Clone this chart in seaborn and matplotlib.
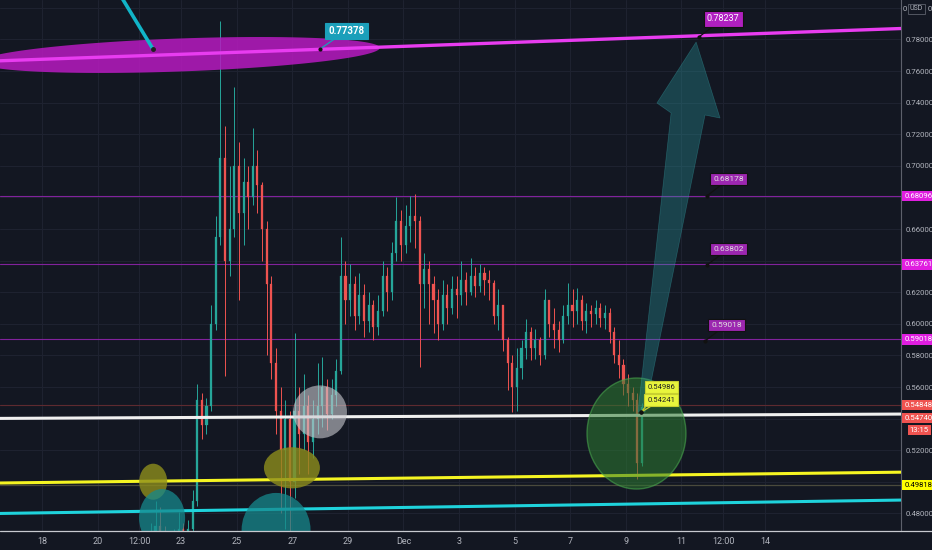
import numpy as np
import pandas as pd
import matplotlib
matplotlib.use("Agg")
import matplotlib.pyplot as plt
import seaborn as sns
from matplotlib.patches import Ellipse, Polygon
from matplotlib.lines import Line2D
import matplotlib.transforms as mtransforms

# ---------------- data (4h candles, x = days after 18 Nov) ----------------
candle_start_day = 3.5
candle_step = 1 / 6
first_open = 0.456
closes = [0.460, 0.463, 0.466, 0.472, 0.468, 0.464, 0.461, 0.465, 0.470, 0.466,
          0.470, 0.488, 0.552, 0.536, 0.548, 0.600, 0.655, 0.705, 0.640, 0.660,
          0.700, 0.670, 0.690, 0.680, 0.700, 0.688, 0.660, 0.625, 0.575, 0.545,
          0.520, 0.540, 0.500, 0.545, 0.530, 0.548, 0.525, 0.540, 0.548, 0.560,
          0.543, 0.555, 0.570, 0.630, 0.615, 0.625, 0.605, 0.618, 0.602, 0.612,
          0.598, 0.608, 0.630, 0.620, 0.645, 0.665, 0.650, 0.662, 0.668, 0.665,
          0.625, 0.635, 0.625, 0.615, 0.600, 0.618, 0.610, 0.622, 0.618, 0.628,
          0.620, 0.630, 0.624, 0.632, 0.628, 0.626, 0.605, 0.612, 0.590, 0.575,
          0.560, 0.572, 0.585, 0.595, 0.585, 0.590, 0.580, 0.615, 0.600, 0.596,
          0.590, 0.605, 0.612, 0.608, 0.615, 0.602, 0.608, 0.606, 0.610, 0.604,
          0.607, 0.595, 0.580, 0.574, 0.562, 0.556, 0.552, 0.512, 0.5474]
highs = [0.462, 0.468, 0.474, 0.488, 0.484, 0.472, 0.467, 0.470, 0.481, 0.474,
         0.476, 0.495, 0.562, 0.556, 0.553, 0.612, 0.668, 0.792, 0.725, 0.700,
         0.750, 0.715, 0.705, 0.700, 0.724, 0.710, 0.690, 0.665, 0.630, 0.585,
         0.560, 0.552, 0.545, 0.594, 0.560, 0.568, 0.555, 0.552, 0.575, 0.579,
         0.565, 0.565, 0.578, 0.655, 0.640, 0.638, 0.630, 0.632, 0.625, 0.620,
         0.615, 0.618, 0.640, 0.636, 0.652, 0.680, 0.672, 0.675, 0.681, 0.682,
         0.668, 0.645, 0.640, 0.630, 0.622, 0.628, 0.625, 0.630, 0.630, 0.640,
         0.633, 0.642, 0.636, 0.638, 0.636, 0.634, 0.628, 0.622, 0.612, 0.592,
         0.580, 0.585, 0.590, 0.603, 0.598, 0.597, 0.592, 0.622, 0.615, 0.610,
         0.602, 0.612, 0.626, 0.622, 0.623, 0.618, 0.613, 0.612, 0.615, 0.613,
         0.612, 0.610, 0.598, 0.590, 0.578, 0.568, 0.560, 0.556, 0.5498]
lows = [0.452, 0.456, 0.460, 0.462, 0.463, 0.458, 0.455, 0.458, 0.462, 0.460,
        0.463, 0.468, 0.485, 0.527, 0.530, 0.545, 0.596, 0.650, 0.567, 0.630,
        0.655, 0.615, 0.650, 0.660, 0.675, 0.670, 0.640, 0.580, 0.565, 0.530,
        0.480, 0.470, 0.465, 0.490, 0.505, 0.520, 0.505, 0.515, 0.530, 0.535,
        0.533, 0.540, 0.548, 0.568, 0.600, 0.605, 0.596, 0.600, 0.592, 0.595,
        0.590, 0.593, 0.605, 0.608, 0.615, 0.640, 0.640, 0.645, 0.652, 0.648,
        0.573, 0.610, 0.600, 0.594, 0.590, 0.596, 0.600, 0.606, 0.604, 0.612,
        0.612, 0.618, 0.617, 0.620, 0.618, 0.615, 0.600, 0.596, 0.583, 0.558,
        0.544, 0.545, 0.565, 0.578, 0.577, 0.578, 0.574, 0.578, 0.592, 0.585,
        0.582, 0.588, 0.600, 0.598, 0.600, 0.596, 0.594, 0.598, 0.600, 0.598,
        0.597, 0.588, 0.575, 0.566, 0.555, 0.548, 0.545, 0.502, 0.510]

date_tick_days = [0, 2, 3.5, 5, 7, 9, 11, 13, 15, 17, 19, 21, 23, 24.5, 26]
date_tick_labels = ["18", "20", "12:00", "23", "25", "27", "29", "Dec", "3", "5",
                    "7", "9", "11", "12:00", "14"]
price_ticks = [0.48, 0.50, 0.52, 0.54, 0.56, 0.58, 0.60, 0.62, 0.64, 0.66,
               0.68, 0.70, 0.72, 0.74, 0.76, 0.78, 0.80]
price_tick_labels = ["0.48000", "", "0.52000", "", "0.56000", "0.58000", "0.60000",
                     "0.62000", "", "0.66000", "", "0.70000", "0.72000", "0.74000",
                     "0.76000", "0.78000", ""]

# horizontal levels
fib_levels = [0.68096, 0.63761, 0.59018]
last_price_line = 0.54848
low_level = 0.49818
# trend lines: two anchor points each (day, price)
magenta_trend = [(10.0, 0.77378), (23.63, 0.78237)]
white_trend = [(0.0, 0.5403), (26.0, 0.5425)]
yellow_trend = [(0.0, 0.4996), (26.0, 0.5051)]
cyan_trend = [(0.0, 0.4804), (26.0, 0.4872)]
pointer_line_days = [2.80, 3.99]
pointer_line_prices = [0.8085, 0.7740]

# callout labels: (text, anchor day, anchor price, box day, box price)
callouts_purple = [("0.68178", 23.92, 0.6810, 24.70, 0.6917),
                   ("0.63802", 23.92, 0.6373, 24.70, 0.6474),
                   ("0.59018", 23.85, 0.5892, 24.62, 0.5994)]
callout_top = ("0.78237", 23.63, 0.7816, 24.50, 0.7930)
callout_left = ("0.77378", 10.00, 0.7740, 10.94, 0.7854)
callouts_yellow = [("0.54986", 21.55, 0.5441, 22.27, 0.5600),
                   ("0.54241", 21.55, 0.5441, 22.27, 0.5518)]

# right axis colored labels: (text, price position, face, text colour, align)
axis_badges = [("0.68096", 0.68096, "#e01ee0", "white", "left"),
               ("0.63761", 0.63761, "#e01ee0", "white", "left"),
               ("0.59018", 0.59018, "#e01ee0", "white", "left"),
               ("0.54848", 0.54848, "#ef5350", "white", "left"),
               ("0.54740", 0.5404, "#ef5350", "white", "left"),
               ("13:15", 0.5329, "#ef5350", "white", "right"),
               ("0.49818", 0.49818, "#ffff00", "black", "left")]

# ---------------- style ----------------
BG = "#131722"
GRID = "#1e2230"
TXT = "#b2b5be"
UP = "#26a69a"
DOWN = "#ef5350"

sns.set_theme(style="dark")
plt.rcParams['font.family'] = ['Roboto', 'DejaVu Sans']

fig = plt.figure(figsize=(9.32, 5.5), dpi=100, facecolor=BG)
ax = fig.add_axes([0, 19 / 550, 901 / 932, 531 / 550])
ax.set_facecolor(BG)
ax.set_xlim(-1.511, 30.90)
ax.set_ylim(0.4689, 0.8050)

# grid
for d in date_tick_days:
    ax.axvline(d, color=GRID, lw=0.8, zorder=0)
for p in price_ticks:
    ax.axhline(p, color=GRID, lw=0.8, zorder=0)

# horizontal levels
for lv in fib_levels:
    ax.axhline(lv, color="#8e24aa", lw=0.8, alpha=0.9, zorder=1)
ax.axhline(last_price_line, color="#5e2a30", lw=0.8, zorder=1)
ax.axhline(low_level, color="#4a4a3c", lw=0.9, zorder=1)

# candles
n = len(closes)
opens = [first_open] + closes[:-1]
xs = candle_start_day + candle_step * (np.arange(n) + 0.5)
df = pd.DataFrame({"x": xs, "open": opens, "high": highs, "low": lows, "close": closes})
df["up"] = df["close"] >= df["open"]
cols = np.where(df["up"], UP, DOWN)
ax.vlines(df["x"], df["low"], df["high"], colors=cols, lw=0.7, zorder=3)
ax.bar(df["x"], (df["close"] - df["open"]).abs().clip(lower=0.0008),
       bottom=np.minimum(df["open"], df["close"]), width=candle_step * 0.45,
       color=cols, edgecolor=cols, linewidth=0.2, zorder=3)

# trend lines
ax.axline(*white_trend, color="#f0f0f0", lw=2.2, zorder=4)
ax.axline(*yellow_trend, color="#f5f522", lw=2.2, zorder=4)
ax.axline(*cyan_trend, color="#1fd3dc", lw=2.2, zorder=4)

# circles
circles = [((4.00, 0.5001), 1.007, 0.0228, "#8d8d1c", 0.80),
           ((4.32, 0.4771), 1.655, 0.0367, "#16888c", 0.75),
           ((8.99, 0.5089), 2.014, 0.0260, "#8d8d1c", 0.80),
           ((8.42, 0.4696), 2.480, 0.0468, "#16888c", 0.75),
           ((10.0, 0.5443), 1.940, 0.0335, "#c9c9cf", 0.60)]
for c, w, h, col, a in circles:
    ax.add_patch(Ellipse(c, w, h, facecolor=col, edgecolor="none", alpha=a, zorder=5))
ax.add_patch(Ellipse((21.385, 0.5306), 3.56, 0.0703, facecolor="#2e7d32",
                     edgecolor="#4caf50", lw=1.0, alpha=0.55, zorder=5))

# magenta ellipse (sheared along trend)
t = np.linspace(0, 2 * np.pi, 200)
slope = (magenta_trend[1][1] - magenta_trend[0][1]) / (magenta_trend[1][0] - magenta_trend[0][0])
cx, cy, a_d, b_p = 4.96, 0.7702, 7.19, 0.01044
ex = cx + a_d * np.cos(t)
ey = cy + a_d * np.cos(t) * slope + b_p * np.sin(t)
ax.add_patch(Polygon(np.column_stack([ex, ey]), closed=True, facecolor="#b81ac0",
                     edgecolor="none", alpha=0.85, zorder=6))
ax.axline(*magenta_trend, color="#e83cf0", lw=2.4, zorder=7)

# pointer line top-left (seaborn)
sns.lineplot(x=pointer_line_days, y=pointer_line_prices, ax=ax, color="#11b5c8",
             lw=2.6, zorder=8)
ax.plot([pointer_line_days[1]], [pointer_line_prices[1]], "o", ms=2.5,
        color="#202020", zorder=9)

# arrow polygon (target)
arrow_pts = [(21.44, 0.5443), (22.63, 0.7335), (22.12, 0.7398), (23.53, 0.7784),
             (24.39, 0.7303), (23.85, 0.7322), (21.69, 0.5443)]
ax.add_patch(Polygon(arrow_pts, closed=True, facecolor="#2a9da3", edgecolor="#3ab5b8",
                     lw=0.5, alpha=0.33, zorder=6))

# callouts
def callout(txt, axd, axp, bxd, bxp, fc, tc, ec, fs=6.5, weight="normal"):
    ax.annotate(txt, xy=(axd, axp), xytext=(bxd, bxp), ha="center", va="center",
                fontsize=fs, color=tc, fontweight=weight, zorder=10,
                bbox=dict(boxstyle="square,pad=0.35", fc=fc, ec=ec, lw=0.8),
                arrowprops=dict(arrowstyle="-", color=ec if ec != "none" else fc,
                                lw=0.9, shrinkA=0, shrinkB=0))
    ax.plot([axd], [axp], "o", ms=2, color="#111111", zorder=10)

for c in callouts_purple:
    callout(*c, fc="#9c27b0", tc="#e0e0e0", ec="#111111", fs=6)
callout(*callout_top, fc="#b020c0", tc="white", ec="#111111", fs=6.5)
callout(*callout_left, fc="#1b9fba", tc="white", ec="#1b9fba", fs=7, weight="bold")
for c in callouts_yellow:
    callout(*c, fc="#e8f53c", tc="#222222", ec="#c8d030", fs=5.5)

# axes cosmetics
ax.set_xticks(date_tick_days)
ax.set_xticklabels(date_tick_labels)
ax.yaxis.tick_right()
ax.set_yticks(price_ticks)
ax.set_yticklabels(price_tick_labels)
ax.tick_params(axis="x", colors=TXT, labelsize=6.5, length=0, pad=4)
ax.tick_params(axis="y", colors=TXT, labelsize=5.6, length=0, pad=3)
ax.grid(False)
for s in ["top", "left", "bottom"]:
    ax.spines[s].set_visible(False)
ax.spines["right"].set_color("#5d606b")
ax.spines["right"].set_linewidth(0.8)
ax.set_xlabel("")
ax.set_ylabel("")

# bottom axis line across full width
fig.add_artist(Line2D([0, 1], [19 / 550, 19 / 550], color="#c8cad0", lw=0.9))

# right axis badges
trans = mtransforms.blended_transform_factory(ax.transAxes, ax.transData)
for txt, p, fc, tc, al in axis_badges:
    xpos = 1.0035 if al == "left" else 1.031
    ax.text(xpos, p, txt, transform=trans, ha=al, va="center",
            fontsize=5.6, color=tc, clip_on=False, zorder=12,
            bbox=dict(boxstyle="square,pad=0.28", fc=fc, ec="none"))

# top of price scale: clipped 0.80000 label under the USD box
fig.text(903 / 932, 1 - 9 / 550, "0", ha="left", va="center", fontsize=5.6, color=TXT)
fig.text(927.5 / 932, 1 - 9 / 550, "0", ha="left", va="center", fontsize=5.6, color=TXT)
fig.text(916.5 / 932, 1 - 9 / 550, "USD", ha="center", va="center", fontsize=5,
         color=TXT, bbox=dict(boxstyle="square,pad=0.25", fc=BG, ec="#5d606b", lw=0.6))

fig.savefig("out.png", dpi=100, facecolor=BG)
